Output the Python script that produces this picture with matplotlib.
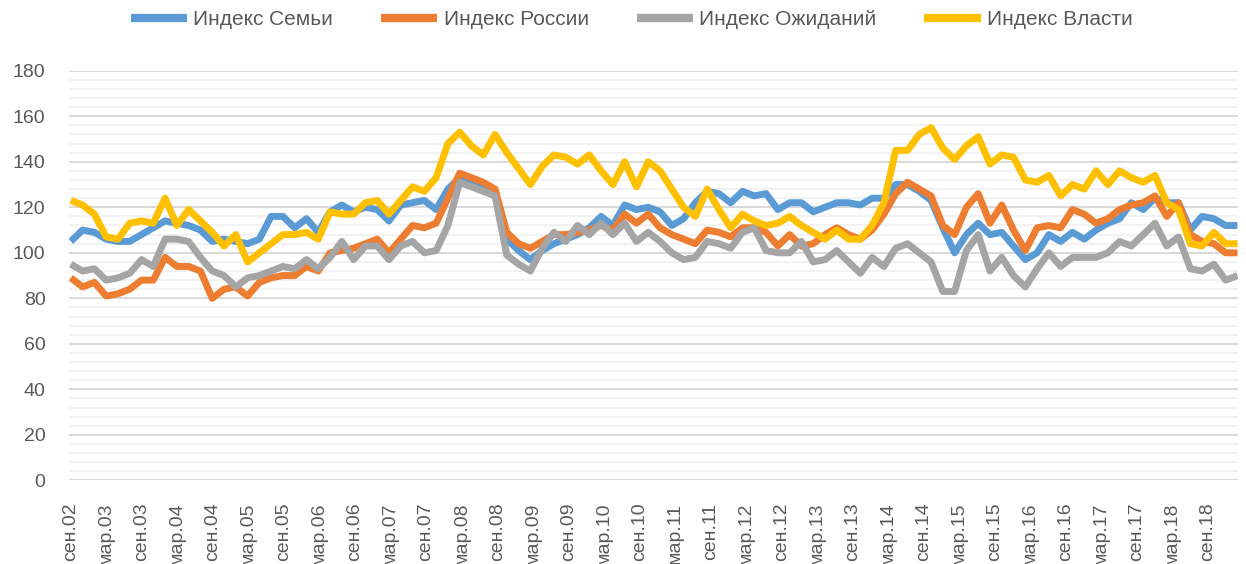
import numpy as np
import matplotlib.pyplot as plt
from matplotlib.ticker import MultipleLocator

# bimonthly survey points, Sep 2002 .. early 2019
family = [105, 110, 109, 106, 105, 105, 108, 111, 114, 113,
          112, 110, 105, 106, 105, 104, 106, 116, 116, 111,
          115, 109, 118, 121, 118, 120, 119, 114, 121, 122,
          123, 119, 128, 133, 131, 130, 127, 106, 101, 97,
          101, 104, 106, 108, 111, 116, 112, 121, 119, 120,
          118, 112, 115, 122, 127, 126, 122, 127, 125, 126,
          119, 122, 122, 118, 120, 122, 122, 121, 124, 124,
          130, 130, 127, 123, 111, 100, 108, 113, 108, 109,
          103, 97, 100, 108, 105, 109, 106, 110, 113, 115,
          122, 119, 124, 122, 122, 110, 116, 115, 112, 112]

russia = [89, 85, 87, 81, 82, 84, 88, 88, 98, 94,
          94, 92, 80, 84, 85, 81, 87, 89, 90, 90,
          94, 92, 100, 101, 102, 104, 106, 100, 106, 112,
          111, 113, 124, 135, 133, 131, 128, 109, 104, 102,
          105, 108, 108, 109, 110, 112, 110, 117, 113, 117,
          111, 108, 106, 104, 110, 109, 107, 111, 111, 109,
          103, 108, 103, 104, 108, 111, 108, 106, 110, 117,
          126, 131, 128, 125, 112, 108, 120, 126, 113, 121,
          110, 101, 111, 112, 111, 119, 117, 113, 115, 119,
          121, 122, 125, 116, 122, 108, 105, 104, 100, 100]

expect = [95, 92, 93, 88, 89, 91, 97, 94, 106, 106,
          105, 98, 92, 90, 85, 89, 90, 92, 94, 93,
          97, 93, 98, 105, 97, 103, 103, 97, 103, 105,
          100, 101, 112, 131, 129, 127, 125, 99, 95, 92,
          102, 109, 105, 112, 108, 113, 108, 113, 105, 109,
          105, 100, 97, 98, 105, 104, 102, 109, 111, 101,
          100, 100, 105, 96, 97, 101, 96, 91, 98, 94,
          102, 104, 100, 96, 83, 83, 101, 108, 92, 98,
          90, 85, 93, 100, 94, 98, 98, 98, 100, 105,
          103, 108, 113, 103, 107, 93, 92, 95, 88, 90]

power = [123, 121, 117, 107, 106, 113, 114, 113, 124, 112,
         119, 114, 109, 103, 108, 96, 100, 104, 108, 108,
         109, 106, 118, 117, 117, 122, 123, 117, 123, 129,
         127, 133, 148, 153, 147, 143, 152, 144, 137, 130,
         138, 143, 142, 139, 143, 136, 130, 140, 129, 140,
         136, 128, 120, 116, 128, 119, 111, 117, 114, 112,
         113, 116, 112, 109, 106, 110, 106, 106, 112, 122,
         145, 145, 152, 155, 146, 141, 147, 151, 139, 143,
         142, 132, 131, 134, 125, 130, 128, 136, 130, 136,
         133, 131, 134, 122, 119, 104, 103, 109, 104, 104]

tick_labels = ['сен.02', 'мар.03', 'сен.03', 'мар.04', 'сен.04', 'мар.05',
               'сен.05', 'мар.06', 'сен.06', 'мар.07', 'сен.07', 'мар.08',
               'сен.08', 'мар.09', 'сен.09', 'мар.10', 'сен.10', 'мар.11',
               'сен.11', 'мар.12', 'сен.12', 'мар.13', 'сен.13', 'мар.14',
               'сен.14', 'мар.15', 'сен.15', 'мар.16', 'сен.16', 'мар.17',
               'сен.17', 'мар.18', 'сен.18']

names = ['Индекс Семьи', 'Индекс России', 'Индекс Ожиданий', 'Индекс Власти']
colors = ['#5B9BD5', '#ED7D31', '#A5A5A5', '#FFC000']

plt.rcParams['font.family'] = ['Liberation Sans', 'DejaVu Sans']
txt = '#595959'

fig = plt.figure(figsize=(12.46, 5.64), dpi=100)
ax = fig.add_axes([0.0554, 0.1482, 0.9382, 0.7264])

x = np.arange(len(family))
for ys, name, c in zip([family, russia, expect, power], names, colors):
    ax.plot(x, ys, color=c, lw=5, label=name,
            solid_joinstyle='round', solid_capstyle='butt')

ax.set_ylim(0, 180)
ax.set_xlim(-0.15, len(family) - 0.95)
ax.yaxis.set_major_locator(MultipleLocator(20))
ax.yaxis.set_minor_locator(MultipleLocator(4))
ax.grid(which='major', axis='y', color='#D9D9D9', lw=1.4)
ax.grid(which='minor', axis='y', color='#F2F2F2', lw=1.4)
ax.set_axisbelow(True)
for s in ax.spines.values():
    s.set_visible(False)

# one label every 6 months; points are ~2 months apart
step = 6 * (len(family) - 1) / 197.0
ax.set_xticks(np.arange(len(tick_labels)) * step)
ax.set_xticklabels(tick_labels, rotation=90)
ax.tick_params(axis='x', length=0, pad=16, labelsize=14, labelcolor=txt)
ax.tick_params(axis='y', which='both', length=0, pad=17, labelsize=14,
               labelcolor=txt)

leg = fig.legend(loc='center', bbox_to_anchor=(0.507, 0.965), ncol=4,
                 frameon=False, fontsize=15, handlelength=2.7,
                 handletextpad=0.3, columnspacing=2.3)
for t in leg.get_texts():
    t.set_color(txt)
for h in leg.get_lines():
    h.set_linewidth(6)

plt.savefig('out.png', dpi=100)
